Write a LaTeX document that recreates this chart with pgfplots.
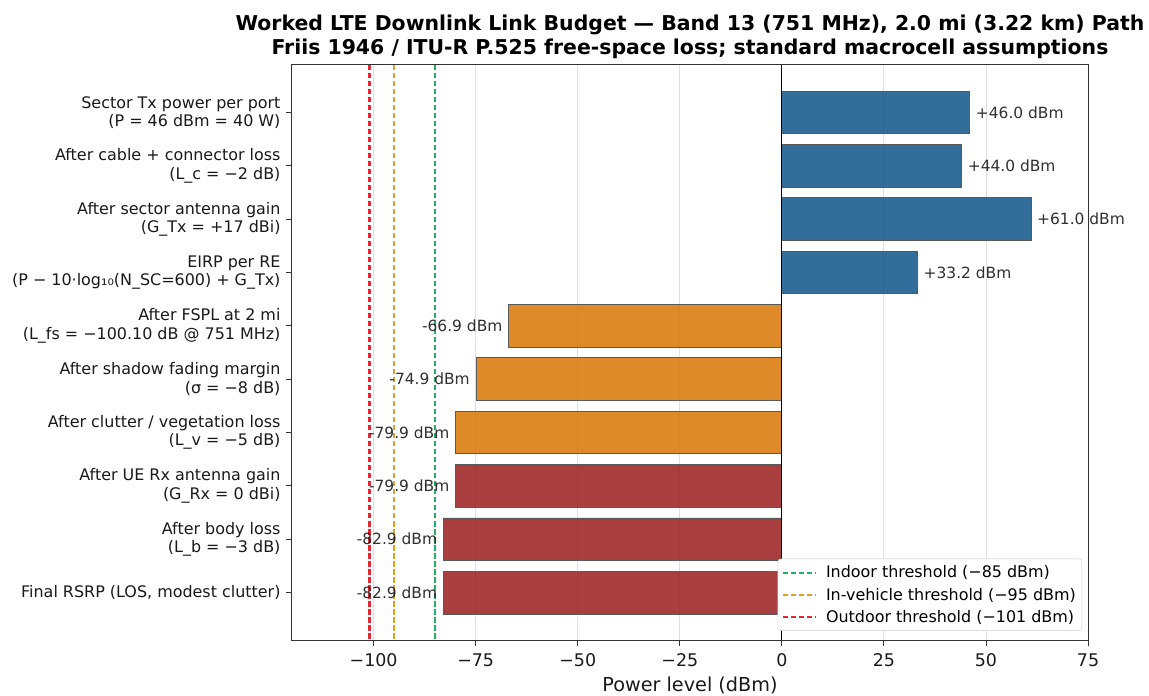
\documentclass[border=0pt]{standalone}
\usepackage{pgfplots}
\pgfplotsset{compat=1.18}
\usepackage{fontspec}
\setmainfont{DejaVu Sans}

\definecolor{txblue}{HTML}{1C5E8E}
\definecolor{pathorange}{HTML}{DA7D12}
\definecolor{rxred}{HTML}{9E2929}
\definecolor{indoorgreen}{RGB}{34,176,96}
\definecolor{vehorange}{RGB}{224,160,32}
\definecolor{outdoorline}{RGB}{228,40,50}

\begin{document}
\begin{tikzpicture}
\path[use as bounding box] (-292bp,-56bp) rectangle (857bp,640bp);
\begin{axis}[
  at={(0,0)}, anchor=south west,
  scale only axis, width=796bp, height=575bp,
  xmin=-120, xmax=75, ymin=-0.89, ymax=9.89, y dir=reverse,
  xtick={-100,-75,-50,-25,0,25,50,75},
  xticklabels={−100,−75,−50,−25,0,25,50,75},
  ytick={0,...,9},
  yticklabels={
    {Sector Tx power per port\\(P = 46 dBm = 40 W)},
    {After cable + connector loss\\(L\_c = −2 dB)},
    {After sector antenna gain\\(G\_Tx = +17 dBi)},
    {EIRP per RE\\(P − 10·log₁₀(N\_SC=600) + G\_Tx)},
    {After FSPL at 2 mi\\(L\_fs = −100.10 dB @ 751 MHz)},
    {After shadow fading margin\\(σ = −8 dB)},
    {After clutter / vegetation loss\\(L\_v = −5 dB)},
    {After UE Rx antenna gain\\(G\_Rx = 0 dBi)},
    {After body loss\\(L\_b = −3 dB)},
    {Final RSRP (LOS, modest clutter)}},
  tick align=outside, tick pos=left,
  major tick length=6bp,
  tick style={line width=0.9bp, color=black!80},
  xmajorgrids, grid style={color=black!12, line width=0.8bp},
  axis line style={line width=1bp, color=black!80},
  yticklabel style={font=\fontsize{16}{18.5}\selectfont, align=right, text=black!90, xshift=-2bp},
  xticklabel style={font=\fontsize{17.5}{21}\selectfont, text=black!90, yshift=-4bp},
  xlabel={Power level (dBm)},
  xlabel style={font=\fontsize{19.3}{22}\selectfont, text=black!90, yshift=-3bp},
  title={Worked LTE Downlink Link Budget — Band 13 (751 MHz), 2.0 mi (3.22 km) Path\\Friis 1946 / ITU-R P.525 free-space loss; standard macrocell assumptions},
  title style={font=\bfseries\fontsize{20.5}{23.5}\selectfont, align=center, at={(0.5,1)}, anchor=south, yshift=-3bp},
  legend style={at={(0.9925,0.016)}, anchor=south east,
    font=\fontsize{16}{19}\selectfont, draw=black!20, rounded corners=3bp,
    fill=white, row sep=4.5bp,
    inner xsep=4bp, inner ysep=5bp},
  legend cell align=left,
  legend image code/.code={\draw[#1] (0bp,0bp) -- (33bp,0bp); \path (40bp,0bp);},
  every node near coord/.append style={font=\fontsize{15.5}{18.5}\selectfont, text=black!90, inner sep=3bp},
]
% threshold references
\addplot[draw=indoorgreen, line width=2bp, dash pattern=on 5.5bp off 2.5bp] coordinates {(-85,-0.89) (-85,9.89)};
\addplot[draw=vehorange, line width=2bp, dash pattern=on 5.5bp off 2.5bp] coordinates {(-95,-0.89) (-95,9.89)};
\addplot[draw=outdoorline, line width=2.2bp, dash pattern=on 5.5bp off 2.5bp] coordinates {(-101,-0.89) (-101,9.89)};
\legend{Indoor threshold (−85 dBm), In-vehicle threshold (−95 dBm), Outdoor threshold (−101 dBm)}

% transmitter side
\addplot[forget plot, xbar, bar width=0.8, bar shift=0pt, fill=txblue, fill opacity=0.9,
  draw=black!65, line width=0.7bp, point meta=explicit symbolic, nodes near coords,
  every node near coord/.append style={anchor=west, xshift=3bp}]
  coordinates {(46.0,0) [+46.0 dBm] (44.0,1) [+44.0 dBm] (61.0,2) [+61.0 dBm] (33.2,3) [+33.2 dBm]};
% propagation path
\addplot[forget plot, xbar, bar width=0.8, bar shift=0pt, fill=pathorange, fill opacity=0.9,
  draw=black!65, line width=0.7bp, point meta=explicit symbolic, nodes near coords,
  every node near coord/.append style={anchor=east, xshift=-3bp}]
  coordinates {(-66.9,4) [-66.9 dBm] (-74.9,5) [-74.9 dBm] (-79.9,6) [-79.9 dBm]};
% receiver side
\addplot[forget plot, xbar, bar width=0.8, bar shift=0pt, fill=rxred, fill opacity=0.9,
  draw=black!65, line width=0.7bp, point meta=explicit symbolic, nodes near coords,
  every node near coord/.append style={anchor=east, xshift=-3bp}]
  coordinates {(-79.9,7) [-79.9 dBm] (-82.9,8) [-82.9 dBm] (-82.9,9) [-82.9 dBm]};
% zero reference
\addplot[forget plot, black, line width=0.8bp] coordinates {(0,-0.89) (0,9.89)};
\end{axis}
\end{tikzpicture}
\end{document}
